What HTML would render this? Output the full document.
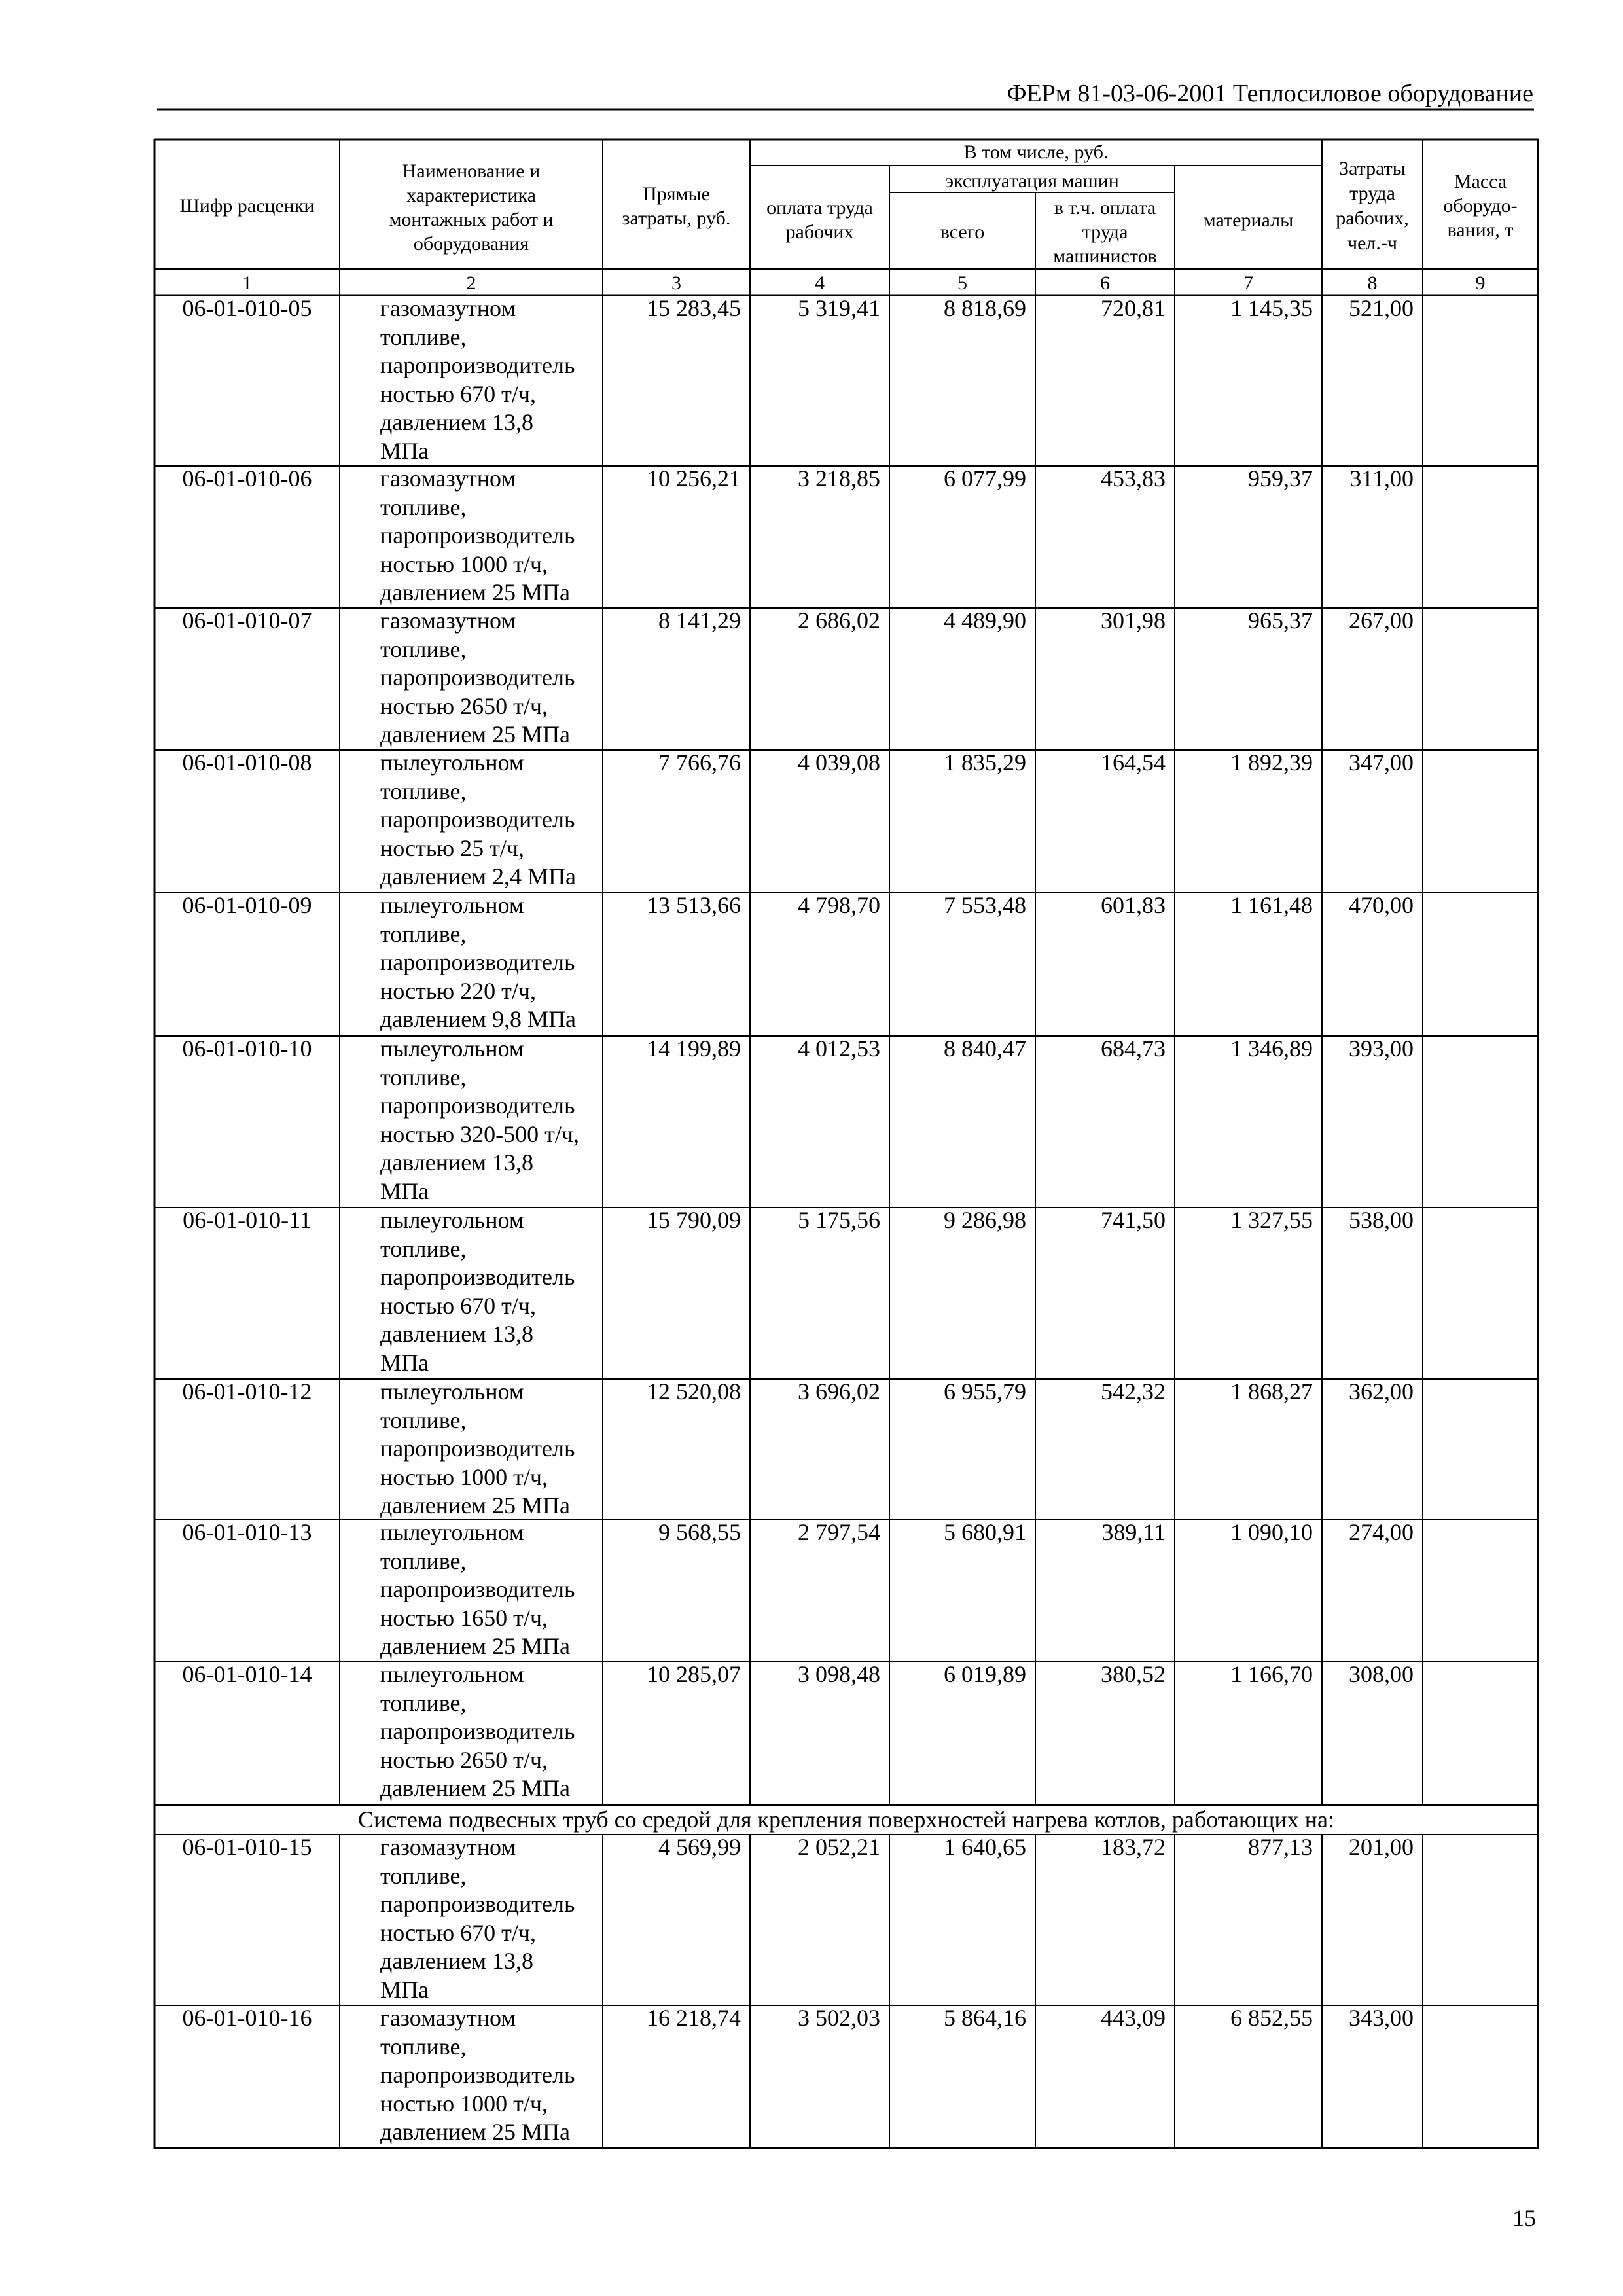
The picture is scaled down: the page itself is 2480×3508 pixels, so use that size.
<!DOCTYPE html>
<html><head><meta charset="utf-8"><style>
html,body{margin:0;padding:0;background:#fff;}
body{width:2480px;height:3508px;position:relative;overflow:hidden;font-family:"Liberation Serif","Noto Serif CJK SC",serif;color:#000;}
.t{position:absolute;font-size:36px;line-height:43.5px;white-space:nowrap;}
.h{position:absolute;font-size:30px;line-height:37px;white-space:nowrap;text-align:center;}
.c{text-align:center;}
svg{position:absolute;left:0;top:0;}
</style></head><body>
<svg width="2480" height="3508">
<g stroke="#000" fill="none">
<line x1="240" y1="167" x2="2344" y2="167" stroke-width="3"/>
<line x1="235" y1="213" x2="2351" y2="213" stroke-width="3"/>
<line x1="1146" y1="253" x2="2020" y2="253" stroke-width="2"/>
<line x1="1359" y1="294" x2="1795" y2="294" stroke-width="2"/>
<line x1="235" y1="411" x2="2351" y2="411" stroke-width="3"/>
<line x1="235" y1="451" x2="2351" y2="451" stroke-width="3"/>
<line x1="235" y1="712" x2="2351" y2="712" stroke-width="2"/>
<line x1="235" y1="929" x2="2351" y2="929" stroke-width="2"/>
<line x1="235" y1="1146" x2="2351" y2="1146" stroke-width="2"/>
<line x1="235" y1="1364" x2="2351" y2="1364" stroke-width="2"/>
<line x1="235" y1="1583" x2="2351" y2="1583" stroke-width="2"/>
<line x1="235" y1="1845" x2="2351" y2="1845" stroke-width="2"/>
<line x1="235" y1="2107" x2="2351" y2="2107" stroke-width="2"/>
<line x1="235" y1="2322" x2="2351" y2="2322" stroke-width="2"/>
<line x1="235" y1="2539" x2="2351" y2="2539" stroke-width="2"/>
<line x1="235" y1="2758" x2="2351" y2="2758" stroke-width="2"/>
<line x1="235" y1="2803" x2="2351" y2="2803" stroke-width="2"/>
<line x1="235" y1="3064" x2="2351" y2="3064" stroke-width="2"/>
<line x1="235" y1="3282" x2="2351" y2="3282" stroke-width="3"/>
<line x1="236" y1="213" x2="236" y2="3283" stroke-width="3"/>
<line x1="2350" y1="213" x2="2350" y2="3283" stroke-width="3"/>
<line x1="519" y1="213" x2="519" y2="2758" stroke-width="2"/>
<line x1="921" y1="213" x2="921" y2="2758" stroke-width="2"/>
<line x1="1146" y1="213" x2="1146" y2="2758" stroke-width="2"/>
<line x1="1359" y1="253" x2="1359" y2="2758" stroke-width="2"/>
<line x1="1582" y1="294" x2="1582" y2="2758" stroke-width="2"/>
<line x1="1795" y1="253" x2="1795" y2="2758" stroke-width="2"/>
<line x1="2020" y1="213" x2="2020" y2="2758" stroke-width="2"/>
<line x1="2174" y1="213" x2="2174" y2="2758" stroke-width="2"/>
<line x1="519" y1="2803" x2="519" y2="3282" stroke-width="2"/>
<line x1="921" y1="2803" x2="921" y2="3282" stroke-width="2"/>
<line x1="1146" y1="2803" x2="1146" y2="3282" stroke-width="2"/>
<line x1="1359" y1="2803" x2="1359" y2="3282" stroke-width="2"/>
<line x1="1582" y1="2803" x2="1582" y2="3282" stroke-width="2"/>
<line x1="1795" y1="2803" x2="1795" y2="3282" stroke-width="2"/>
<line x1="2020" y1="2803" x2="2020" y2="3282" stroke-width="2"/>
<line x1="2174" y1="2803" x2="2174" y2="3282" stroke-width="2"/>
</g></svg>

<div class="t" style="right:137px;top:124px;font-size:38px;line-height:38px;">ФЕРм 81-03-06-2001 Теплосиловое оборудование</div>

<div class="h" style="left:236px;width:283px;top:296px;">Шифр расценки</div>
<div class="h" style="left:519px;width:402px;top:243px;">Наименование и<br>характеристика<br>монтажных работ и<br>оборудования</div>
<div class="h" style="left:921px;width:225px;top:278px;">Прямые<br>затраты, руб.</div>
<div class="h" style="left:1146px;width:874px;top:214px;">В том числе, руб.</div>
<div class="h" style="left:1359px;width:436px;top:258px;">эксплуатация машин</div>
<div class="h" style="left:1146px;width:213px;top:299px;">оплата труда<br>рабочих</div>
<div class="h" style="left:1359px;width:223px;top:336px;">всего</div>
<div class="h" style="left:1582px;width:213px;top:299px;">в т.ч. оплата<br>труда<br>машинистов</div>
<div class="h" style="left:1795px;width:225px;top:318px;">материалы</div>
<div class="h" style="left:2020px;width:154px;top:239px;line-height:38px;">Затраты<br>труда<br>рабочих,<br>чел.-ч</div>
<div class="h" style="left:2174px;width:176px;top:259px;">Масса<br>оборудо-<br>вания, т</div>

<div class="h" style="left:236px;width:283px;top:414px;">1</div>
<div class="h" style="left:519px;width:402px;top:414px;">2</div>
<div class="h" style="left:921px;width:225px;top:414px;">3</div>
<div class="h" style="left:1146px;width:213px;top:414px;">4</div>
<div class="h" style="left:1359px;width:223px;top:414px;">5</div>
<div class="h" style="left:1582px;width:213px;top:414px;">6</div>
<div class="h" style="left:1795px;width:225px;top:414px;">7</div>
<div class="h" style="left:2020px;width:154px;top:414px;">8</div>
<div class="h" style="left:2174px;width:176px;top:414px;">9</div>

<!-- Row 05 -->
<div class="t c" style="left:236px;width:283px;top:450px;">06-01-010-05</div>
<div class="t" style="left:581px;top:450px;">газомазутном<br>топливе,<br>паропроизводитель<br>ностью 670 т/ч,<br>давлением 13,8<br>МПа</div>
<div class="t" style="right:1348px;top:450px;">15 283,45</div>
<div class="t" style="right:1135px;top:450px;">5 319,41</div>
<div class="t" style="right:912px;top:450px;">8 818,69</div>
<div class="t" style="right:699px;top:450px;">720,81</div>
<div class="t" style="right:474px;top:450px;">1 145,35</div>
<div class="t" style="right:320px;top:450px;">521,00</div>

<!-- Row 06 -->
<div class="t c" style="left:236px;width:283px;top:710px;">06-01-010-06</div>
<div class="t" style="left:581px;top:710px;">газомазутном<br>топливе,<br>паропроизводитель<br>ностью 1000 т/ч,<br>давлением 25 МПа</div>
<div class="t" style="right:1348px;top:710px;">10 256,21</div>
<div class="t" style="right:1135px;top:710px;">3 218,85</div>
<div class="t" style="right:912px;top:710px;">6 077,99</div>
<div class="t" style="right:699px;top:710px;">453,83</div>
<div class="t" style="right:474px;top:710px;">959,37</div>
<div class="t" style="right:320px;top:710px;">311,00</div>

<!-- Row 07 -->
<div class="t c" style="left:236px;width:283px;top:927px;">06-01-010-07</div>
<div class="t" style="left:581px;top:927px;">газомазутном<br>топливе,<br>паропроизводитель<br>ностью 2650 т/ч,<br>давлением 25 МПа</div>
<div class="t" style="right:1348px;top:927px;">8 141,29</div>
<div class="t" style="right:1135px;top:927px;">2 686,02</div>
<div class="t" style="right:912px;top:927px;">4 489,90</div>
<div class="t" style="right:699px;top:927px;">301,98</div>
<div class="t" style="right:474px;top:927px;">965,37</div>
<div class="t" style="right:320px;top:927px;">267,00</div>

<!-- Row 08 -->
<div class="t c" style="left:236px;width:283px;top:1144px;">06-01-010-08</div>
<div class="t" style="left:581px;top:1144px;">пылеугольном<br>топливе,<br>паропроизводитель<br>ностью 25 т/ч,<br>давлением 2,4 МПа</div>
<div class="t" style="right:1348px;top:1144px;">7 766,76</div>
<div class="t" style="right:1135px;top:1144px;">4 039,08</div>
<div class="t" style="right:912px;top:1144px;">1 835,29</div>
<div class="t" style="right:699px;top:1144px;">164,54</div>
<div class="t" style="right:474px;top:1144px;">1 892,39</div>
<div class="t" style="right:320px;top:1144px;">347,00</div>

<!-- Row 09 -->
<div class="t c" style="left:236px;width:283px;top:1362px;">06-01-010-09</div>
<div class="t" style="left:581px;top:1362px;">пылеугольном<br>топливе,<br>паропроизводитель<br>ностью 220 т/ч,<br>давлением 9,8 МПа</div>
<div class="t" style="right:1348px;top:1362px;">13 513,66</div>
<div class="t" style="right:1135px;top:1362px;">4 798,70</div>
<div class="t" style="right:912px;top:1362px;">7 553,48</div>
<div class="t" style="right:699px;top:1362px;">601,83</div>
<div class="t" style="right:474px;top:1362px;">1 161,48</div>
<div class="t" style="right:320px;top:1362px;">470,00</div>

<!-- Row 10 -->
<div class="t c" style="left:236px;width:283px;top:1581px;">06-01-010-10</div>
<div class="t" style="left:581px;top:1581px;">пылеугольном<br>топливе,<br>паропроизводитель<br>ностью 320-500 т/ч,<br>давлением 13,8<br>МПа</div>
<div class="t" style="right:1348px;top:1581px;">14 199,89</div>
<div class="t" style="right:1135px;top:1581px;">4 012,53</div>
<div class="t" style="right:912px;top:1581px;">8 840,47</div>
<div class="t" style="right:699px;top:1581px;">684,73</div>
<div class="t" style="right:474px;top:1581px;">1 346,89</div>
<div class="t" style="right:320px;top:1581px;">393,00</div>

<!-- Row 11 -->
<div class="t c" style="left:236px;width:283px;top:1843px;">06-01-010-11</div>
<div class="t" style="left:581px;top:1843px;">пылеугольном<br>топливе,<br>паропроизводитель<br>ностью 670 т/ч,<br>давлением 13,8<br>МПа</div>
<div class="t" style="right:1348px;top:1843px;">15 790,09</div>
<div class="t" style="right:1135px;top:1843px;">5 175,56</div>
<div class="t" style="right:912px;top:1843px;">9 286,98</div>
<div class="t" style="right:699px;top:1843px;">741,50</div>
<div class="t" style="right:474px;top:1843px;">1 327,55</div>
<div class="t" style="right:320px;top:1843px;">538,00</div>

<!-- Row 12 -->
<div class="t c" style="left:236px;width:283px;top:2105px;">06-01-010-12</div>
<div class="t" style="left:581px;top:2105px;">пылеугольном<br>топливе,<br>паропроизводитель<br>ностью 1000 т/ч,<br>давлением 25 МПа</div>
<div class="t" style="right:1348px;top:2105px;">12 520,08</div>
<div class="t" style="right:1135px;top:2105px;">3 696,02</div>
<div class="t" style="right:912px;top:2105px;">6 955,79</div>
<div class="t" style="right:699px;top:2105px;">542,32</div>
<div class="t" style="right:474px;top:2105px;">1 868,27</div>
<div class="t" style="right:320px;top:2105px;">362,00</div>

<!-- Row 13 -->
<div class="t c" style="left:236px;width:283px;top:2320px;">06-01-010-13</div>
<div class="t" style="left:581px;top:2320px;">пылеугольном<br>топливе,<br>паропроизводитель<br>ностью 1650 т/ч,<br>давлением 25 МПа</div>
<div class="t" style="right:1348px;top:2320px;">9 568,55</div>
<div class="t" style="right:1135px;top:2320px;">2 797,54</div>
<div class="t" style="right:912px;top:2320px;">5 680,91</div>
<div class="t" style="right:699px;top:2320px;">389,11</div>
<div class="t" style="right:474px;top:2320px;">1 090,10</div>
<div class="t" style="right:320px;top:2320px;">274,00</div>

<!-- Row 14 -->
<div class="t c" style="left:236px;width:283px;top:2537px;">06-01-010-14</div>
<div class="t" style="left:581px;top:2537px;">пылеугольном<br>топливе,<br>паропроизводитель<br>ностью 2650 т/ч,<br>давлением 25 МПа</div>
<div class="t" style="right:1348px;top:2537px;">10 285,07</div>
<div class="t" style="right:1135px;top:2537px;">3 098,48</div>
<div class="t" style="right:912px;top:2537px;">6 019,89</div>
<div class="t" style="right:699px;top:2537px;">380,52</div>
<div class="t" style="right:474px;top:2537px;">1 166,70</div>
<div class="t" style="right:320px;top:2537px;">308,00</div>

<!-- Section -->
<div class="t c" style="left:236px;width:2114px;top:2759px;">Система подвесных труб со средой для крепления поверхностей нагрева котлов, работающих на:</div>

<!-- Row 15 -->
<div class="t c" style="left:236px;width:283px;top:2801px;">06-01-010-15</div>
<div class="t" style="left:581px;top:2801px;">газомазутном<br>топливе,<br>паропроизводитель<br>ностью 670 т/ч,<br>давлением 13,8<br>МПа</div>
<div class="t" style="right:1348px;top:2801px;">4 569,99</div>
<div class="t" style="right:1135px;top:2801px;">2 052,21</div>
<div class="t" style="right:912px;top:2801px;">1 640,65</div>
<div class="t" style="right:699px;top:2801px;">183,72</div>
<div class="t" style="right:474px;top:2801px;">877,13</div>
<div class="t" style="right:320px;top:2801px;">201,00</div>

<!-- Row 16 -->
<div class="t c" style="left:236px;width:283px;top:3062px;">06-01-010-16</div>
<div class="t" style="left:581px;top:3062px;">газомазутном<br>топливе,<br>паропроизводитель<br>ностью 1000 т/ч,<br>давлением 25 МПа</div>
<div class="t" style="right:1348px;top:3062px;">16 218,74</div>
<div class="t" style="right:1135px;top:3062px;">3 502,03</div>
<div class="t" style="right:912px;top:3062px;">5 864,16</div>
<div class="t" style="right:699px;top:3062px;">443,09</div>
<div class="t" style="right:474px;top:3062px;">6 852,55</div>
<div class="t" style="right:320px;top:3062px;">343,00</div>

<div class="t" style="right:133px;top:3368px;">15</div>
</body></html>
